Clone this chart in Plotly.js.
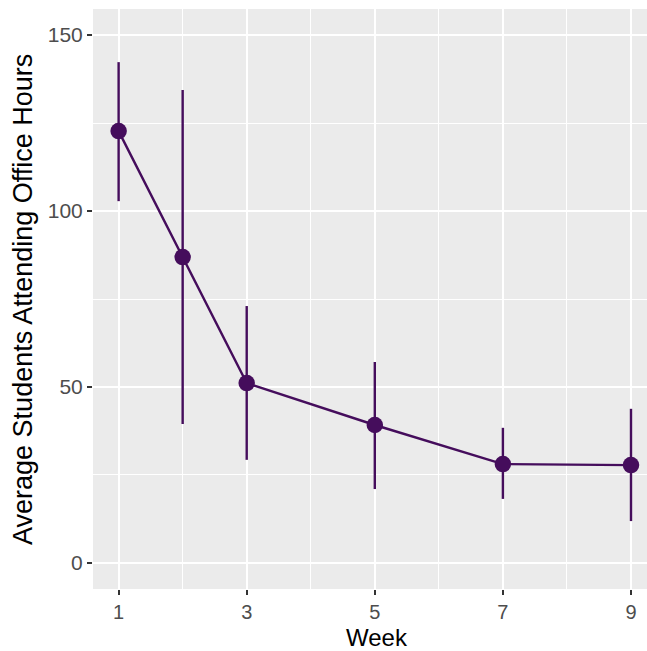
<!DOCTYPE html>
<html>
<head>
<meta charset="utf-8">
<script src="https://cdn.plot.ly/plotly-3.0.1.min.js"></script>
<style>html,body{margin:0;padding:0;background:#fff;}#chart{width:647px;height:651px;}</style>
</head>
<body>
<div id="chart"></div>
<script>
const weeks = [1, 2, 3, 5, 7, 9];
const avgStudents = [122.7, 86.9, 51.1, 39.2, 28.1, 27.8];
const upper = [142.3, 134.4, 73.0, 57.1, 38.4, 43.8];
const lower = [102.8, 39.5, 29.3, 21.0, 18.2, 11.9];
const xTicks = [1, 3, 5, 7, 9];
const yTicks = [0, 50, 100, 150];
const xTitle = 'Week';
const yTitle = 'Average Students Attending Office Hours';

const errPlus = upper.map((u, i) => u - avgStudents[i]);
const errMinus = avgStudents.map((v, i) => v - lower[i]);
const col = '#450d5c';

const trace = {
  x: weeks, y: avgStudents, type: 'scatter', mode: 'lines+markers',
  line: {color: col, width: 2.4},
  marker: {color: col, size: 16.5},
  error_y: {type: 'data', symmetric: false, array: errPlus, arrayminus: errMinus,
            color: col, thickness: 2.4, width: 0},
  hoverinfo: 'none'
};

const layout = {
  width: 647, height: 651,
  margin: {l: 93, r: 0, t: 9, b: 62},
  paper_bgcolor: '#ffffff', plot_bgcolor: '#ebebeb',
  showlegend: false,
  font: {family: 'Liberation Sans, Arial, sans-serif'},
  xaxis: {
    range: [0.6, 9.25], tickvals: xTicks, ticktext: xTicks.map(String),
    showgrid: true, gridcolor: '#ffffff', gridwidth: 2, zeroline: false,
    ticks: 'outside', ticklen: 5, tickwidth: 2, tickcolor: '#333333',
    tickfont: {size: 20, color: '#4d4d4d'},
    minor: {tickvals: [2, 4, 6, 8], showgrid: true, gridcolor: '#ffffff', gridwidth: 1, ticks: ''},
    showline: false
  },
  yaxis: {
    range: [-7.4, 157.4], tickvals: yTicks, ticktext: yTicks.map(String),
    showgrid: true, gridcolor: '#ffffff', gridwidth: 2, zeroline: false,
    ticks: 'outside', ticklen: 5, tickwidth: 2, tickcolor: '#333333',
    tickfont: {size: 21, color: '#4d4d4d'},
    minor: {tickvals: [25, 75, 125], showgrid: true, gridcolor: '#ffffff', gridwidth: 1, ticks: ''},
    showline: false
  },
  annotations: [
    {text: xTitle, xref: 'paper', yref: 'paper', x: 0.512, y: -0.1103,
     xanchor: 'center', yanchor: 'bottom', showarrow: false,
     font: {size: 24, color: '#000000'}},
    {text: yTitle, xref: 'paper', yref: 'paper', x: -0.1264, y: 0.5,
     xanchor: 'center', yanchor: 'middle', textangle: -90, showarrow: false,
     font: {size: 27, color: '#000000'}}
  ]
};

Plotly.newPlot('chart', [trace], layout, {displayModeBar: false, staticPlot: true});
</script>
</body>
</html>
